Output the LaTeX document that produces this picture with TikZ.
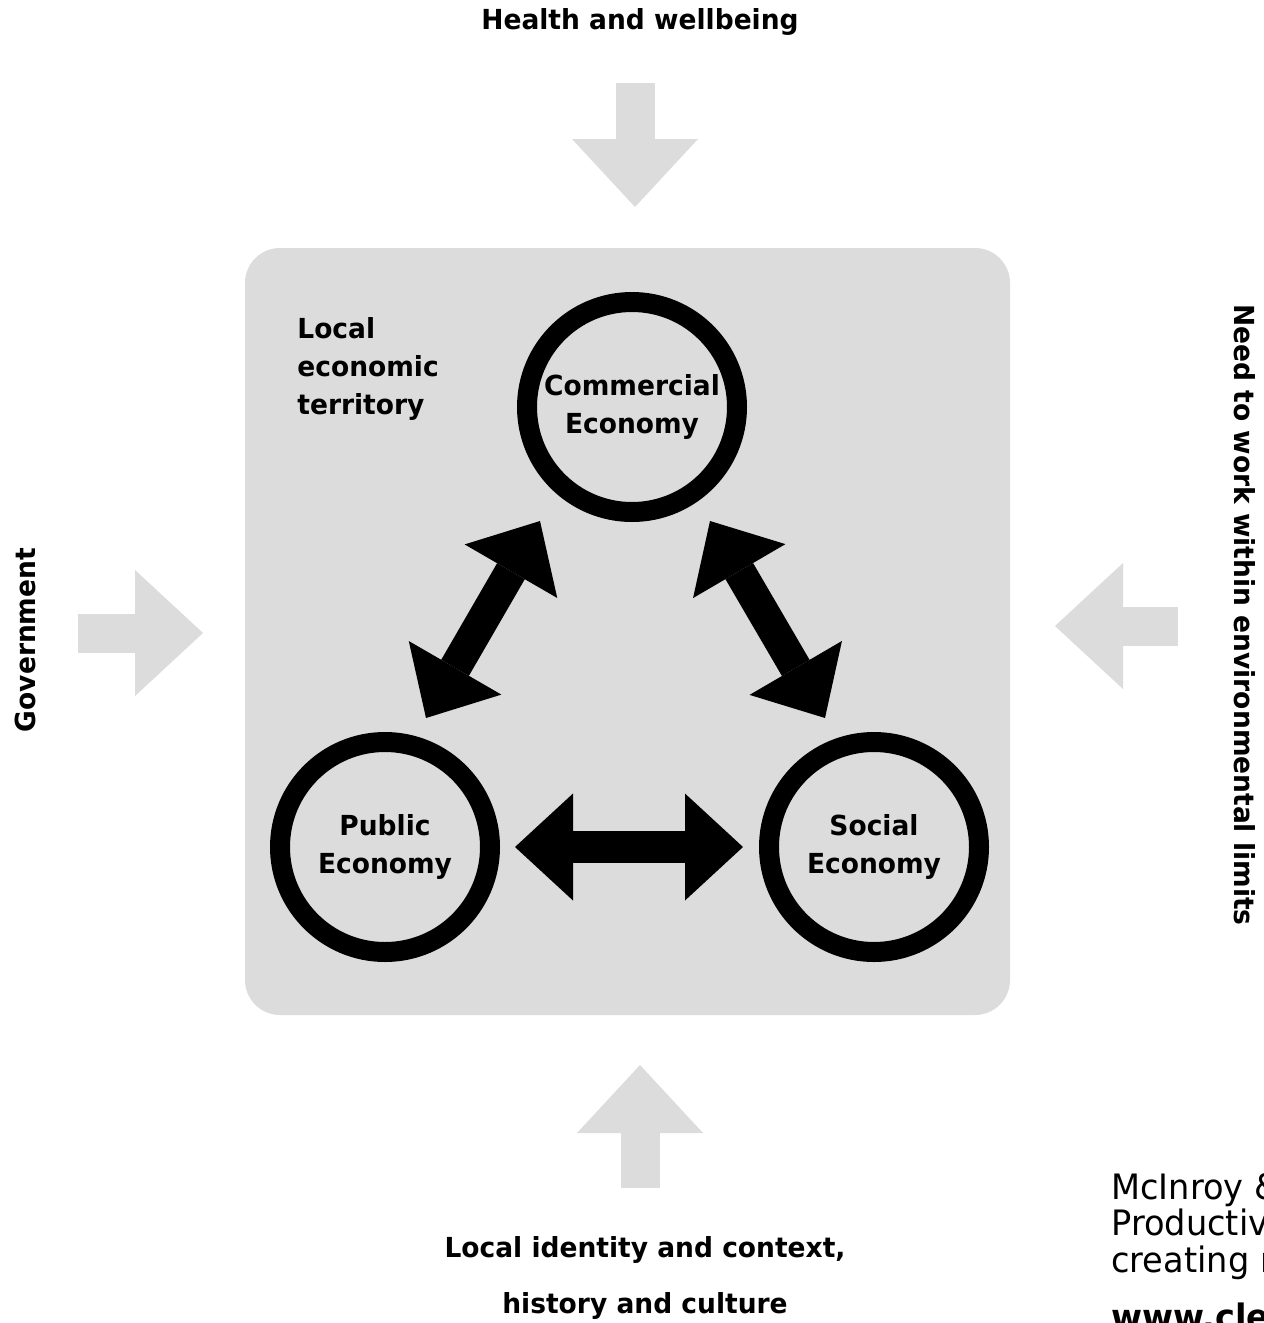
\documentclass[tikz,border=0pt]{standalone}
\usepackage{fontspec}
\setmainfont{DejaVu Sans}[FakeStretch=0.96]
\usepackage{tikz}
\usetikzlibrary{arrows.meta,calc,positioning}
\definecolor{panelgray}{RGB}{220,220,220}
\newcommand{\labfont}{\fontsize{13.8}{19}\selectfont\bfseries}
\newcommand{\citefont}{\fontsize{17.5}{18.25}\selectfont}

\begin{document}
\begin{tikzpicture}[x=0.5pt, y=-0.5pt,
  econ/.style={circle, draw=black, line width=10pt, minimum size=105pt,
    inner sep=0pt, align=center, font=\labfont},
  influence/.style={draw=panelgray, line width=19.5pt,
    -{Triangle[length=34pt, width=63pt, line width=0pt]}},
  exchange/.style={draw=black, line width=16pt,
    {Triangle[length=29pt, width=53.5pt, line width=0pt]}-{Triangle[length=29pt, width=53.5pt, line width=0pt]}},
  outside/.style={font=\labfont, inner sep=0pt}]

  \useasboundingbox (0,0) rectangle (1264,1323);
  \clip (0,0) rectangle (1264,1323);
  \fill[white] (0,0) rectangle (1264,1323);

  % ========== TERRITORY ==========
  \fill[panelgray, rounded corners=17.5pt] (245,248) rectangle (1010,1015);
  \node[font=\labfont, align=left, inner sep=0pt, anchor=north west]
    (territory) at (297,317) {Local\\economic\\territory};

  % ========== ECONOMIES ==========
  \node[econ] (commercial) at (632,407) {Commercial\\Economy};
  \node[econ] (public) at (385,847) {Public\\Economy};
  \node[econ] (social) at (874,847) {Social\\Economy};

  % Exchange arrows
  \coordinate (cp-c) at (540,521);
  \coordinate (cp-p) at (426,718);
  \coordinate (cs-c) at (710,521);
  \coordinate (cs-s) at (825,718);
  \coordinate (ps-p) at (515,847);
  \coordinate (ps-s) at (743,847);
  \draw[exchange] (cp-c) -- (cp-p);
  \draw[exchange] (cs-c) -- (cs-s);
  \draw[exchange] (ps-p) -- (ps-s);

  % ========== OUTSIDE INFLUENCES ==========
  \node[outside] (health) at (640,22) {Health and wellbeing};
  \node[outside, rotate=90] (government) at (25,640) {Government};
  \node[outside, rotate=-90] (limits) at (1245,615)
    {Need to work within environmental limits};
  \node[outside, align=center, font=\fontsize{13.8}{28}\selectfont\bfseries]
    (identity) at (645,1278) {Local identity and context,\\history and culture};

  \coordinate (health-from) at (635,83);    \coordinate (health-to) at (635,207);
  \coordinate (gov-from) at (78,633);       \coordinate (gov-to) at (203,633);
  \coordinate (limits-from) at (1178,626);  \coordinate (limits-to) at (1055,626);
  \coordinate (identity-from) at (640,1188); \coordinate (identity-to) at (640,1065);
  \foreach \n in {health,gov,limits,identity}{
    \draw[influence] (\n-from) -- (\n-to);
  }

  % Source
  \node[font=\citefont, align=left, inner sep=0pt, anchor=north west]
    (source) at (1111,1172) {McInroy \& Jackson (2015)\\Productive Local Economies:\\creating resilient places\\[10.5pt]\textbf{www.cles.org.uk}};

\end{tikzpicture}
\end{document}
